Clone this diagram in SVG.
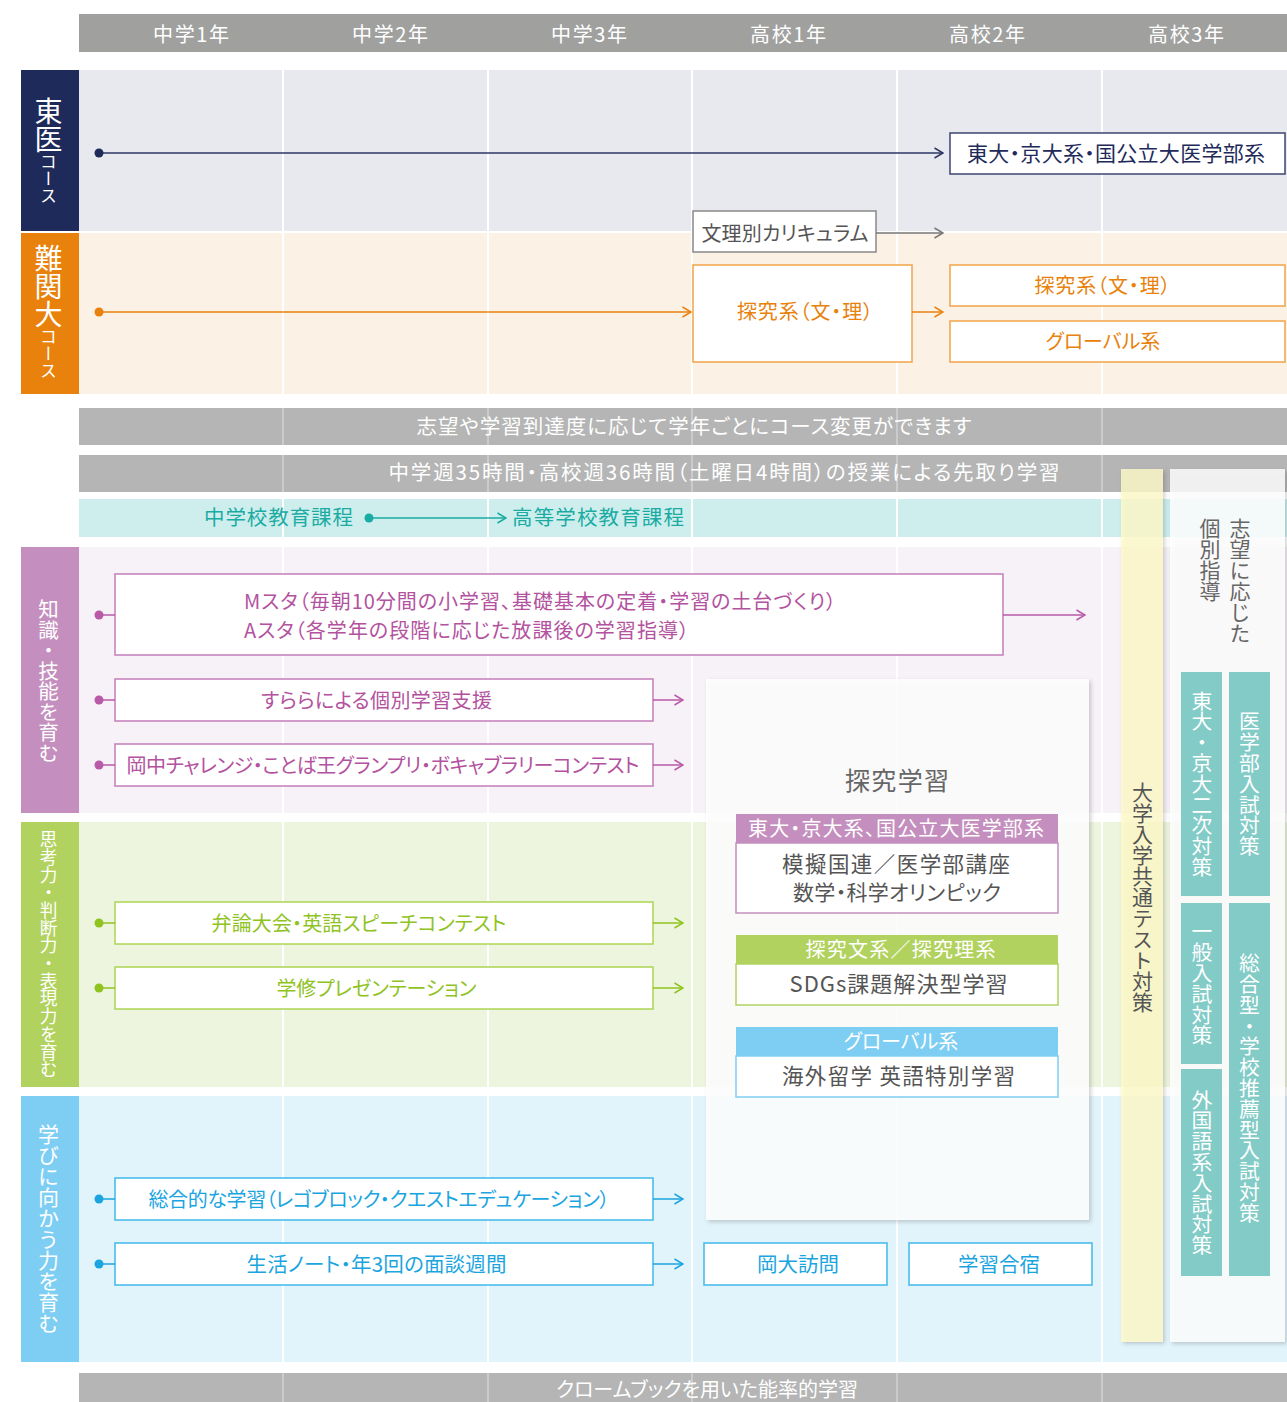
<svg xmlns="http://www.w3.org/2000/svg" width="1287" height="1402" viewBox="0 0 1287 1402">
<defs>
<style>
text{font-family:"Noto Sans CJK JP","Noto Sans",sans-serif;}
.h{font-feature-settings:"palt";}
.c{text-anchor:middle;}
.v{writing-mode:vertical-rl;text-anchor:middle;}
.vs{writing-mode:vertical-rl;text-anchor:start;}
.wt{fill:#ffffff;}
.sep{stroke:#ffffff;stroke-width:2;fill:none;}
.sepb{stroke:#ffffff;stroke-opacity:0.3;stroke-width:2;fill:none;}
.ln{fill:none;stroke-width:1.5;}
.bx{fill:#ffffff;stroke-width:1.5;}
</style>
<filter id="sh" x="-10%" y="-5%" width="130%" height="115%">
<feDropShadow dx="2" dy="2" stdDeviation="2" flood-color="#000" flood-opacity="0.22"/>
</filter>
<marker id="aNavy" viewBox="0 0 10 12" refX="9.5" refY="6" markerWidth="10" markerHeight="12" markerUnits="userSpaceOnUse" orient="auto"><path d="M1,1 L9.5,6 L1,11" fill="none" stroke="#2c3566" stroke-width="1.5"/></marker>
<marker id="aGray" viewBox="0 0 10 12" refX="9.5" refY="6" markerWidth="10" markerHeight="12" markerUnits="userSpaceOnUse" orient="auto"><path d="M1,1 L9.5,6 L1,11" fill="none" stroke="#777777" stroke-width="1.5"/></marker>
<marker id="aOr" viewBox="0 0 10 12" refX="9.5" refY="6" markerWidth="10" markerHeight="12" markerUnits="userSpaceOnUse" orient="auto"><path d="M1,1 L9.5,6 L1,11" fill="none" stroke="#e8820c" stroke-width="1.5"/></marker>
<marker id="aTeal" viewBox="0 0 10 12" refX="9.5" refY="6" markerWidth="10" markerHeight="12" markerUnits="userSpaceOnUse" orient="auto"><path d="M1,1 L9.5,6 L1,11" fill="none" stroke="#1aaba3" stroke-width="1.5"/></marker>
<marker id="aPur" viewBox="0 0 10 12" refX="9.5" refY="6" markerWidth="10" markerHeight="12" markerUnits="userSpaceOnUse" orient="auto"><path d="M1,1 L9.5,6 L1,11" fill="none" stroke="#b95aa8" stroke-width="1.5"/></marker>
<marker id="aGr" viewBox="0 0 10 12" refX="9.5" refY="6" markerWidth="10" markerHeight="12" markerUnits="userSpaceOnUse" orient="auto"><path d="M1,1 L9.5,6 L1,11" fill="none" stroke="#8fc31f" stroke-width="1.5"/></marker>
<marker id="aBl" viewBox="0 0 10 12" refX="9.5" refY="6" markerWidth="10" markerHeight="12" markerUnits="userSpaceOnUse" orient="auto"><path d="M1,1 L9.5,6 L1,11" fill="none" stroke="#1ba5df" stroke-width="1.5"/></marker>
</defs>

<rect x="0" y="0" width="1287" height="1402" fill="#ffffff"/>

<!-- row backgrounds -->
<g id="backgrounds">
<rect x="79" y="70" width="1208" height="161" fill="#e8e9ef"/>
<rect x="79" y="233" width="1208" height="161" fill="#fcf1e5"/>
<rect x="79" y="499" width="1208" height="38" fill="#cdeeed"/>
<rect x="79" y="547" width="1208" height="266" fill="#f7f1f8"/>
<rect x="79" y="822" width="1208" height="265" fill="#edf5df"/>
<rect x="79" y="1096" width="1208" height="266" fill="#e2f4fb"/>
</g>
<path class="sep" d="M283,70V1402M488,70V1402M692,70V1402M897,70V1402M1102,70V1402"/>

<!-- header -->
<g id="header">
<rect x="79" y="14" width="1208" height="38" fill="#a0a19f"/>
<text class="h c wt" font-size="20" x="191" y="42" textLength="76">中学1年</text>
<text class="h c wt" font-size="20" x="390" y="42" textLength="76">中学2年</text>
<text class="h c wt" font-size="20" x="589" y="42" textLength="76">中学3年</text>
<text class="h c wt" font-size="20" x="788" y="42" textLength="76">高校1年</text>
<text class="h c wt" font-size="20" x="987" y="42" textLength="76">高校2年</text>
<text class="h c wt" font-size="20" x="1186" y="42" textLength="76">高校3年</text>
</g>

<!-- gray bars -->
<g id="bar-change">
<rect x="79" y="408" width="1208" height="37" fill="#b4b5b4"/>
<path class="sepb" d="M283,408V445M488,408V445M692,408V445M897,408V445M1102,408V445"/>
<text class="h c wt" font-size="20.5" x="694" y="433.5" textLength="555">志望や学習到達度に応じて学年ごとにコース変更ができます</text>
</g>
<g id="bar-hours">
<rect x="79" y="455" width="1208" height="37" fill="#b4b5b4"/>
<path class="sepb" d="M283,455V492M488,455V492M692,455V492M897,455V492M1102,455V492"/>
<text class="h c wt" font-size="20.5" x="724" y="480" textLength="671">中学週35時間・高校週36時間（土曜日4時間）の授業による先取り学習</text>
</g>
<g id="bar-chromebook">
<rect x="79" y="1373" width="1208" height="29" fill="#b4b5b4"/>
<path class="sepb" d="M283,1373V1402M488,1373V1402M692,1373V1402M897,1373V1402M1102,1373V1402"/>
<text class="h c wt" font-size="20" x="707" y="1397" textLength="302">クロームブックを用いた能率的学習</text>
</g>

<!-- sidebars -->
<g id="side-toui">
<rect x="21" y="70" width="58" height="161" fill="#1e2a5a"/>
<text class="v wt" x="48.5" y="150.5"><tspan font-size="28">東医</tspan><tspan font-size="17">コース</tspan></text>
</g>
<g id="side-nankan">
<rect x="21" y="233" width="58" height="161" fill="#e8820c"/>
<text class="v wt" x="48.5" y="312"><tspan font-size="28">難関大</tspan><tspan font-size="17">コース</tspan></text>
</g>
<g id="side-chishiki">
<rect x="21" y="547" width="58" height="266" fill="#c48fbe"/>
<text class="v wt" font-size="20.5" x="48.5" y="681">知識・技能を育む</text>
</g>
<g id="side-shikou">
<rect x="21" y="822" width="58" height="265" fill="#b1d25f"/>
<text class="v wt" font-size="17.7" x="48.5" y="954.5">思考力・判断力・表現力を育む</text>
</g>
<g id="side-manabi">
<rect x="21" y="1096" width="58" height="266" fill="#7ecef4"/>
<text class="v wt" font-size="21" x="48.5" y="1229">学びに向かう力を育む</text>
</g>

<!-- right columns -->
<g id="kyotsu-test">
<rect x="1121" y="469" width="42" height="873" fill="#fffac8" fill-opacity="0.8" filter="url(#sh)"/>
<text class="v" font-size="21" fill="#555555" x="1142.5" y="897.5">大学入学共通テスト対策</text>
</g>
<g id="kobetsu-panel">
<rect x="1170" y="469" width="115" height="873" fill="#ffffff" fill-opacity="0.82" filter="url(#sh)"/>
<text class="vs" font-size="21" fill="#666666" x="1240" y="518">志望に応じた</text>
<text class="vs" font-size="21" fill="#666666" x="1210" y="518">個別指導</text>
</g>
<g id="todai-kyodai-niji">
<rect x="1181" y="672" width="41" height="224" fill="#82cbc7"/>
<text class="v wt" font-size="20.8" x="1202" y="784">東大・京大二次対策</text>
</g>
<g id="igakubu-nyushi">
<rect x="1229" y="672" width="41" height="224" fill="#82cbc7"/>
<text class="v wt" font-size="20.8" x="1249.5" y="784">医学部入試対策</text>
</g>
<g id="ippan-nyushi">
<rect x="1181" y="903" width="41" height="161" fill="#82cbc7"/>
<text class="v wt" font-size="20.8" x="1202" y="983.5">一般入試対策</text>
</g>
<g id="gaikokugo-nyushi">
<rect x="1181" y="1069" width="41" height="207" fill="#82cbc7"/>
<text class="v wt" font-size="20.8" x="1202" y="1172.5">外国語系入試対策</text>
</g>
<g id="sogo-suisen">
<rect x="1229" y="903" width="41" height="373" fill="#82cbc7"/>
<text class="v wt" font-size="20.8" x="1249.5" y="1088">総合型・学校推薦型入試対策</text>
</g>

<!-- tankyu panel -->
<g id="tankyu-panel">
<rect x="706" y="679" width="383" height="541" fill="#ffffff" fill-opacity="0.85" filter="url(#sh)"/>
<text class="h c" font-size="25" fill="#666666" x="897" y="790" textLength="104">探究学習</text>
</g>
<g id="tankyu-todai">
<rect x="736" y="843" width="322" height="70" class="bx" stroke="#c48fbe"/>
<rect x="736" y="814" width="322" height="29" fill="#c48fbe"/>
<text class="h c wt" font-size="20" x="896" y="836" textLength="296">東大・京大系、国公立大医学部系</text>
<text class="h c" font-size="21.5" fill="#555555" x="896" y="871.5" textLength="228">模擬国連／医学部講座</text>
<text class="h c" font-size="21" fill="#555555" x="897" y="900" textLength="208">数学・科学オリンピック</text>
</g>
<g id="tankyu-bunri">
<rect x="736" y="964" width="322" height="41" class="bx" stroke="#b1d25f"/>
<rect x="736" y="935" width="322" height="29" fill="#b1d25f"/>
<text class="h c wt" font-size="20" x="900.5" y="957" textLength="190">探究文系／探究理系</text>
<text class="h c" font-size="22" fill="#555555" x="898.5" y="992" textLength="218">SDGs課題解決型学習</text>
</g>
<g id="tankyu-global">
<rect x="736" y="1056" width="322" height="41" class="bx" stroke="#7ecef4"/>
<rect x="736" y="1027" width="322" height="29" fill="#7ecef4"/>
<text class="h c wt" font-size="20" x="901" y="1049">グローバル系</text>
<text class="h c" font-size="21.5" fill="#555555" x="898.5" y="1083.5" textLength="233">海外留学 英語特別学習</text>
</g>

<!-- course boxes -->
<g id="todai-kyodai-box">
<rect x="950" y="133" width="335" height="41" class="bx" stroke="#3b4470"/>
<text class="h c" font-size="21" fill="#1e2a5a" x="1116" y="160.5" textLength="298">東大・京大系・国公立大医学部系</text>
</g>
<g id="bunri-curriculum">
<rect x="693" y="211" width="183" height="41" class="bx" stroke="#888888"/>
<text class="h c" font-size="20" fill="#555555" x="785" y="240.5" textLength="167">文理別カリキュラム</text>
</g>
<g id="tankyu-bunri-big">
<rect x="693" y="265" width="219" height="97" class="bx" stroke="#f1a448"/>
<text class="h c" font-size="20" fill="#e8820c" x="805" y="319" textLength="136">探究系（文・理）</text>
</g>
<g id="tankyu-bunri-small">
<rect x="950" y="265" width="335" height="41" class="bx" stroke="#f1a448"/>
<text class="h c" font-size="20" fill="#e8820c" x="1102.5" y="293" textLength="136">探究系（文・理）</text>
</g>
<g id="global-small">
<rect x="950" y="321" width="335" height="41" class="bx" stroke="#f1a448"/>
<text class="h c" font-size="20" fill="#e8820c" x="1103" y="349">グローバル系</text>
</g>

<!-- curriculum row -->
<g id="chugaku-kyoiku">
<text class="h" font-size="20.5" fill="#1aaba3" x="204" y="524.5" textLength="149">中学校教育課程</text>
</g>
<g id="koto-kyoiku">
<text class="h" font-size="20.5" fill="#1aaba3" x="512" y="524.5" textLength="172">高等学校教育課程</text>
</g>

<!-- knowledge items -->
<g id="msta">
<rect x="115" y="574" width="888" height="81" class="bx" stroke="#c47dba"/>
<text class="h" font-size="20" fill="#b3529e" x="244" y="609" textLength="592">Mスタ（毎朝10分間の小学習、基礎基本の定着・学習の土台づくり）</text>
<text class="h" font-size="20" fill="#b3529e" x="244" y="638" textLength="445">Aスタ（各学年の段階に応じた放課後の学習指導）</text>
</g>
<g id="surara">
<rect x="115" y="679" width="538" height="42" class="bx" stroke="#c47dba"/>
<text class="h c" font-size="20" fill="#b3529e" x="376.5" y="708" textLength="231">すららによる個別学習支援</text>
</g>
<g id="okachu-challenge">
<rect x="115" y="744" width="538" height="42" class="bx" stroke="#c47dba"/>
<text class="h c" font-size="20" fill="#b3529e" x="383" y="773" textLength="513">岡中チャレンジ・ことば王グランプリ・ボキャブラリーコンテスト</text>
</g>

<!-- thinking items -->
<g id="benron">
<rect x="115" y="902" width="538" height="42" class="bx" stroke="#acd452"/>
<text class="h c" font-size="20" fill="#8fc31f" x="359" y="931" textLength="295">弁論大会・英語スピーチコンテスト</text>
</g>
<g id="gakushu-presen">
<rect x="115" y="967" width="538" height="42" class="bx" stroke="#acd452"/>
<text class="h c" font-size="20" fill="#8fc31f" x="376.5" y="996" textLength="200">学修プレゼンテーション</text>
</g>

<!-- learning attitude items -->
<g id="sogoteki">
<rect x="115" y="1178" width="538" height="42" class="bx" stroke="#3fb8ea"/>
<text class="h c" font-size="20" fill="#1ba5df" x="379" y="1207" textLength="461">総合的な学習（レゴブロック・クエストエデュケーション）</text>
</g>
<g id="seikatsu-note">
<rect x="115" y="1243" width="538" height="42" class="bx" stroke="#3fb8ea"/>
<text class="h c" font-size="20.5" fill="#1ba5df" x="376.5" y="1272" textLength="260">生活ノート・年3回の面談週間</text>
</g>
<g id="okadai-homon">
<rect x="704" y="1243" width="183" height="42" class="bx" stroke="#3fb8ea"/>
<text class="h c" font-size="20.5" fill="#1ba5df" x="798" y="1272">岡大訪問</text>
</g>
<g id="gakushu-gasshuku">
<rect x="909" y="1243" width="183" height="42" class="bx" stroke="#3fb8ea"/>
<text class="h c" font-size="20.5" fill="#1ba5df" x="999" y="1272">学習合宿</text>
</g>

<!-- connectors -->
<g id="connectors">
<path class="ln" stroke="#2c3566" d="M99,153H943" marker-end="url(#aNavy)"/>
<circle cx="99" cy="153" r="4.5" fill="#1e2a5a"/>
<path class="ln" stroke="#777777" d="M876,233H943" marker-end="url(#aGray)"/>
<path class="ln" stroke="#e8820c" d="M99,312H691" marker-end="url(#aOr)"/>
<circle cx="99" cy="312" r="4.5" fill="#e8820c"/>
<path class="ln" stroke="#e8820c" d="M912,312H943" marker-end="url(#aOr)"/>
<path class="ln" stroke="#1aaba3" d="M369,518H506" marker-end="url(#aTeal)"/>
<circle cx="369" cy="518" r="4.5" fill="#1aaba3"/>

<path class="ln" stroke="#b95aa8" d="M99,615H115M99,700H115M99,765H115"/>
<circle cx="99" cy="615" r="4.5" fill="#b95aa8"/>
<circle cx="99" cy="700" r="4.5" fill="#b95aa8"/>
<circle cx="99" cy="765" r="4.5" fill="#b95aa8"/>
<path class="ln" stroke="#b95aa8" d="M1003,615H1085" marker-end="url(#aPur)"/>
<path class="ln" stroke="#b95aa8" d="M653,700H683" marker-end="url(#aPur)"/>
<path class="ln" stroke="#b95aa8" d="M653,765H683" marker-end="url(#aPur)"/>

<path class="ln" stroke="#8fc31f" d="M99,923H115M99,988H115"/>
<circle cx="99" cy="923" r="4.5" fill="#8fc31f"/>
<circle cx="99" cy="988" r="4.5" fill="#8fc31f"/>
<path class="ln" stroke="#8fc31f" d="M653,923H683" marker-end="url(#aGr)"/>
<path class="ln" stroke="#8fc31f" d="M653,988H683" marker-end="url(#aGr)"/>

<path class="ln" stroke="#1ba5df" d="M99,1199H115M99,1264H115"/>
<circle cx="99" cy="1199" r="4.5" fill="#1ba5df"/>
<circle cx="99" cy="1264" r="4.5" fill="#1ba5df"/>
<path class="ln" stroke="#1ba5df" d="M653,1199H683" marker-end="url(#aBl)"/>
<path class="ln" stroke="#1ba5df" d="M653,1264H683" marker-end="url(#aBl)"/>
</g>
</svg>
